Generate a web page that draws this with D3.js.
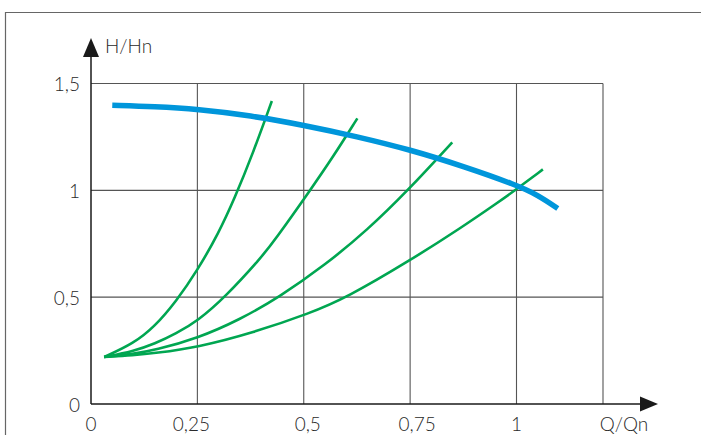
<!DOCTYPE html>
<html>
<head>
<meta charset="utf-8">
<script src="https://cdn.jsdelivr.net/npm/d3@7"></script>
<style>
  html, body { margin: 0; padding: 0; background: #fff; }
  svg { display: block; }
  text { font-family: Lato, "Open Sans", sans-serif; font-weight: 300; fill: #2a2a2a; }
</style>
</head>
<body>
<svg id="chart" width="701" height="435"></svg>
<script>
// ---- data ----
const xTicks = [0, 0.25, 0.5, 0.75, 1];
const xTickLabels = ["0", "0,25", "0,5", "0,75", "1"];
const yTicks = [0, 0.5, 1, 1.5];
const yTickLabels = ["0", "0,5", "1", "1,5"];
const xTitle = "Q/Qn";
const yTitle = "H/Hn";

// pump curve (blue): [Q/Qn, H/Hn]
const pumpCurve = [
  [0.05, 1.398], [0.15, 1.392], [0.25, 1.38], [0.375, 1.35], [0.5, 1.305],
  [0.625, 1.252], [0.75, 1.19], [0.875, 1.113], [1.0, 1.025], [1.05, 0.978], [1.097, 0.915]
];
// system curves (green)
const system1 = [
  [0.031, 0.22], [0.1, 0.283], [0.15, 0.363], [0.2, 0.48], [0.25, 0.625],
  [0.3, 0.8], [0.337, 0.96], [0.38, 1.17], [0.425, 1.418]
];
const system2 = [
  [0.031, 0.22], [0.1, 0.247], [0.15, 0.282], [0.2, 0.33], [0.25, 0.388],
  [0.315, 0.5], [0.4, 0.685], [0.432, 0.767], [0.515, 1.0], [0.57, 1.16], [0.626, 1.337]
];
const system3 = [
  [0.031, 0.22], [0.1, 0.234], [0.15, 0.252], [0.25, 0.307], [0.35, 0.395],
  [0.442, 0.5], [0.55, 0.65], [0.65, 0.815], [0.745, 1.0], [0.849, 1.225]
];
const system4 = [
  [0.031, 0.22], [0.1, 0.228], [0.15, 0.238], [0.25, 0.265], [0.38, 0.333],
  [0.515, 0.425], [0.6, 0.497], [0.75, 0.672], [0.87, 0.825], [0.961, 0.95],
  [0.991, 0.992], [1.062, 1.098]
];
const systemCurves = [system1, system2, system3, system4];

// ---- drawing ----
const svg = d3.select("#chart");
const xs = d3.scaleLinear().domain([0, 1]).range([91, 516.5]);
const ys = d3.scaleLinear().domain([0, 1.5]).range([404, 83.5]);
const xMax = xs.invert(603);

// outer frame
svg.append("path")
  .attr("d", "M5.5,435 L5.5,12.5 L701,12.5")
  .attr("fill", "none").attr("stroke", "#666").attr("stroke-width", 1.2);

const grid = svg.append("g").attr("fill", "none").attr("stroke", "#555").attr("stroke-width", 1.1);
// horizontal grid lines
yTicks.filter(v => v > 0).forEach(v => {
  grid.append("line")
    .attr("x1", xs(0)).attr("x2", xs(xMax))
    .attr("y1", ys(v)).attr("y2", ys(v));
});
// vertical grid lines + right border
xTicks.filter(v => v > 0).concat([xMax]).forEach(v => {
  grid.append("line")
    .attr("x1", xs(v)).attr("x2", xs(v))
    .attr("y1", ys(0)).attr("y2", ys(1.5));
});

// axes with arrows
const axisColor = "#1a1a1a";
svg.append("line").attr("x1", xs(0)).attr("x2", 645).attr("y1", ys(0)).attr("y2", ys(0))
  .attr("stroke", axisColor).attr("stroke-width", 1.5);
svg.append("line").attr("x1", xs(0)).attr("x2", xs(0)).attr("y1", ys(0)).attr("y2", 52)
  .attr("stroke", axisColor).attr("stroke-width", 1.5);
svg.append("path").attr("d", `M${658},${ys(0)} L${640},${ys(0) - 7.5} L${640},${ys(0) + 7.5} Z`)
  .attr("fill", axisColor);
svg.append("path").attr("d", `M${xs(0)},38 L${xs(0) - 8},57 L${xs(0) + 8},57 Z`)
  .attr("fill", axisColor);

// tick labels
const fs = 19;
const xLabelNudge = [0, -6, 4, 7, 0]; // label offsets as typeset in the original
svg.append("g").selectAll("text").data(yTicks).join("text")
  .attr("x", 80).attr("y", d => ys(d) + 7.5)
  .attr("text-anchor", "end").attr("font-size", fs)
  .text((d, i) => yTickLabels[i]);
svg.append("g").selectAll("text").data(xTicks).join("text")
  .attr("x", (d, i) => xs(d) + xLabelNudge[i]).attr("y", 431)
  .attr("text-anchor", "middle").attr("font-size", fs)
  .text((d, i) => xTickLabels[i]);
svg.append("text").attr("x", 624).attr("y", 431).attr("text-anchor", "middle")
  .attr("font-size", fs).text(xTitle);
svg.append("text").attr("x", 105).attr("y", 53).attr("text-anchor", "start")
  .attr("font-size", fs).text(yTitle);

// curves
const line = d3.line().x(d => xs(d[0])).y(d => ys(d[1])).curve(d3.curveBasis);
svg.append("g").selectAll("path").data(systemCurves).join("path")
  .attr("d", line).attr("fill", "none")
  .attr("stroke", "#00a651").attr("stroke-width", 2.6).attr("stroke-linecap", "butt");
svg.append("path").datum(pumpCurve).attr("d", line).attr("fill", "none")
  .attr("stroke", "#0096db").attr("stroke-width", 5.5).attr("stroke-linecap", "butt");
</script>
</body>
</html>
